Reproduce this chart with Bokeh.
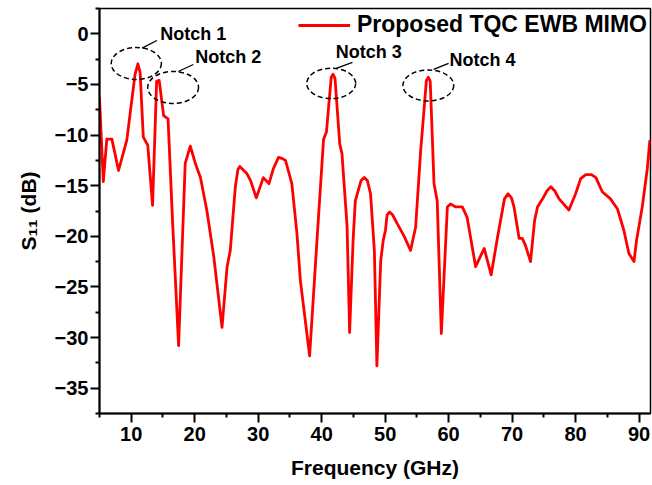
from bokeh.plotting import figure
from bokeh.models import (FixedTicker, Range1d, Legend, LegendItem)
from bokeh.core.properties import value
from bokeh.embed import file_html
from bokeh.resources import INLINE

# ---- data ----
freq = [5.0, 5.6, 6.15, 6.95, 8.0, 9.3, 10.6, 11.05, 11.4, 11.9, 12.6, 13.36,
        14.0, 14.4, 15.1, 15.8, 16.5, 17.46, 18.5, 19.3, 20.1, 20.9,
        21.9, 23.0, 24.3, 25.1, 25.6, 26.4, 26.8, 27.1, 28.2, 28.8, 29.7,
        30.8, 31.7, 32.4, 33.2, 33.7, 34.3, 35.3, 36.1, 36.65, 38.1, 39.3,
        40.3, 40.75, 41.5, 41.8, 42.1, 42.85, 43.2, 44.0, 44.4, 44.95, 45.3, 46.2, 46.7,
        47.2, 47.7, 48.3, 48.7, 49.3, 49.7, 50.05, 50.3, 50.7, 51.2, 51.9, 53.0, 54.0,
        54.8, 55.6, 56.5, 56.8, 57.1, 57.7, 58.2, 58.85, 59.8, 60.3, 61.1, 62.15,
        62.9, 64.25, 65.6, 66.7, 67.7, 68.8, 69.35, 69.9, 70.3, 71.1, 71.6, 72.1,
        72.9, 73.55, 74.0, 74.8, 75.5, 76.1, 76.7, 77.4, 78.95, 80.0, 80.8, 81.6,
        82.5, 83.2, 84.2, 85.5, 86.6, 87.6, 88.4, 89.2, 89.6, 90.5, 91.3, 91.7]
s11 = [-6.3, -14.6, -10.4, -10.4, -13.5, -10.5, -4.0, -2.96, -3.8, -10.2, -11.0, -16.95,
       -4.7, -4.6, -8.07, -8.4, -18.4, -30.8, -12.8, -11.1, -12.8, -14.2,
       -17.4, -22.0, -29.0, -23.0, -21.4, -15.1, -13.4, -13.1, -13.8, -14.5, -16.2,
       -14.2, -14.8, -13.3, -12.2, -12.3, -12.5, -14.8, -19.7, -24.4, -31.8, -20.0,
       -10.4, -9.7, -4.3, -4.0, -4.4, -10.9, -11.85, -19.0, -29.5, -20.4, -16.5, -14.5, -14.2,
       -14.5, -15.8, -21.4, -32.8, -22.4, -20.4, -19.4, -17.9, -17.6, -17.9, -18.75, -20.0, -21.4,
       -19.1, -11.5, -4.6, -4.28, -4.7, -14.8, -16.5, -29.6, -17.1, -16.8, -17.1, -17.1,
       -18.1, -23.0, -21.2, -23.8, -20.1, -16.3, -15.8, -16.2, -17.1, -20.2, -20.2, -20.9,
       -22.5, -18.4, -17.1, -16.3, -15.5, -15.1, -15.5, -16.3, -17.4, -15.8, -14.3, -13.9,
       -13.9, -14.2, -15.6, -16.3, -17.3, -19.4, -21.7, -22.5, -20.4, -17.1, -13.3, -10.5]

x_ticks = [10, 20, 30, 40, 50, 60, 70, 80, 90]
x_minor = [5, 15, 25, 35, 45, 55, 65, 75, 85]
y_ticks = [0, -5, -10, -15, -20, -25, -30, -35]
y_minor = [2.5, -2.5, -7.5, -12.5, -17.5, -22.5, -27.5, -32.5, -37.5]

series_name = "Proposed TQC EWB MIMO"

# notch annotations (ellipse centre, size; label; leader line)
notch_labels = ["Notch 1", "Notch 2", "Notch 3", "Notch 4"]
notch_cx = [10.8, 16.6, 41.5, 56.8]
notch_cy = [-2.93, -5.3, -4.9, -5.1]
notch_w = [7.9, 8.0, 7.7, 8.0]
notch_h = [3.16, 3.16, 3.0, 3.06]
label_x = [14.57, 20.1, 42.2, 60.15]
label_y = [0.0, -2.3, -1.77, -2.57]
lead_x0 = [11.69, 17.41, 42.17, 57.63]
lead_y0 = [-1.42, -3.72, -3.43, -3.52]
lead_x1 = [14.05, 19.78, 44.85, 60.0]
lead_y1 = [-0.66, -3.03, -2.83, -2.93]

FONT = "Liberation Sans"

p = figure(width=652, height=485, output_backend="svg", toolbar_location=None,
           x_range=Range1d(5, 91.8), y_range=Range1d(-37.5, 2.5),
           min_border_left=99, min_border_right=2, min_border_top=8,
           min_border_bottom=72)
p.grid.visible = False
p.outline_line_color = "black"
p.outline_line_width = 1.5
p.background_fill_color = "white"
p.border_fill_color = "white"

line = p.line(freq, s11, line_color="#ff0000", line_width=2.8, line_join="round")

p.ellipse(x=notch_cx, y=notch_cy, width=notch_w, height=notch_h,
          fill_color=None, line_color="black", line_width=1.5, line_dash="5 3")
p.segment(x0=lead_x0, y0=lead_y0, x1=lead_x1, y1=lead_y1,
          line_color="black", line_width=1.3)
p.text(x=label_x, y=label_y, text=notch_labels, text_font=value(FONT),
       text_font_style="bold", text_font_size="18px", text_align="left",
       text_baseline="middle", text_color="black")

for ax, ticks, minor in ((p.xaxis[0], x_ticks, x_minor), (p.yaxis[0], y_ticks, y_minor)):
    ax.ticker = FixedTicker(ticks=ticks, minor_ticks=minor)
    ax.axis_line_width = 2
    ax.major_tick_line_width = 2
    ax.minor_tick_line_width = 2
    ax.major_tick_out = 9
    ax.major_tick_in = 0
    ax.minor_tick_out = 4
    ax.minor_tick_in = 0
    ax.major_label_text_font = FONT
    ax.major_label_text_font_style = "bold"
    ax.major_label_text_font_size = "20px"
    ax.major_label_text_color = "black"
    ax.axis_label_text_font = FONT
    ax.axis_label_text_font_style = "bold"
    ax.axis_label_text_font_size = "21px"
    ax.axis_label_text_color = "black"

p.yaxis[0].major_label_overrides = {v: ("\u2212" + str(-v) if v < 0 else str(v)) for v in y_ticks}
p.xaxis[0].axis_label = "Frequency (GHz)"
p.yaxis[0].axis_label = "S\u2081\u2081 (dB)"
p.xaxis[0].major_label_standoff = 4
p.xaxis[0].axis_label_standoff = 12
p.yaxis[0].major_label_standoff = 2
p.yaxis[0].axis_label_standoff = 12

legend = Legend(items=[LegendItem(label=series_name, renderers=[line])],
                location="top_right", border_line_color=None,
                background_fill_alpha=0, label_text_font=FONT,
                label_text_font_style="bold", label_text_font_size="23px",
                label_text_color="black",
                glyph_width=52, label_standoff=7, padding=3, margin=3)
p.add_layout(legend)

open("out.html", "w").write(file_html(p, INLINE))
